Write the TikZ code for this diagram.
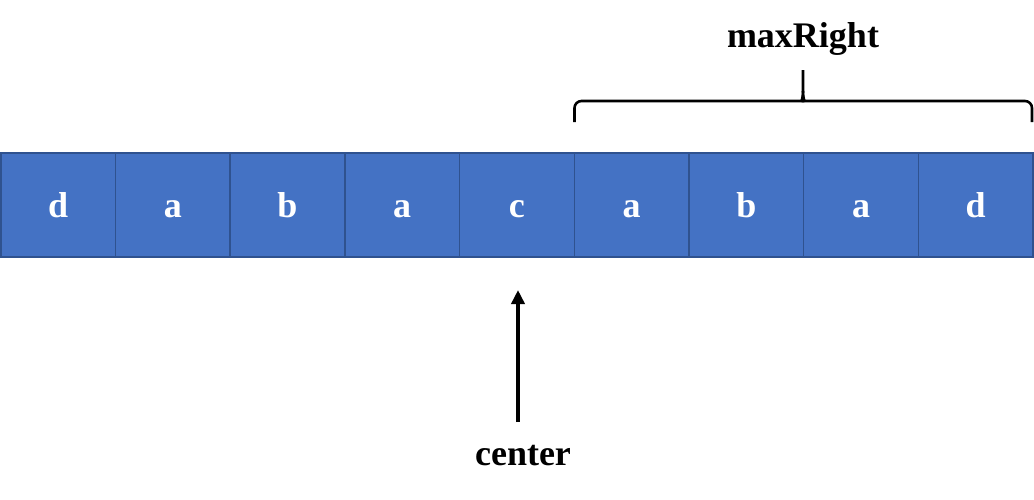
\documentclass[tikz,border=0pt]{standalone}
\usepackage{fontspec}
\setmainfont{Liberation Serif}
\usetikzlibrary{arrows.meta}
\usetikzlibrary{positioning}
\usetikzlibrary{calc}
\definecolor{cellfill}{HTML}{4472C4}
\definecolor{celledge}{HTML}{2F528F}

\begin{document}
\begin{tikzpicture}[x=1pt,y=-1pt,node distance=0pt,
                    cell/.style={rectangle,draw=celledge,line width=1.5pt,fill=cellfill,
                      minimum width=114.7pt,minimum height=104pt,inner sep=0pt,outer sep=0pt,
                      text height=24pt,text depth=0pt,
                      text=white,font=\fontsize{36}{40}\selectfont\bfseries},
                    label text/.style={font=\fontsize{36}{40}\selectfont\bfseries,inner sep=0pt,anchor=base}]

  \useasboundingbox (0,0) rectangle (1034,499);

  \node[cell,anchor=north west] (c1) at (0.75,153) {d};
  \foreach \ch [count=\i from 2, evaluate=\i as \j using int(\i-1)] in {a,b,a,c,a,b,a,d}
    \node[cell,right=of c\j] (c\i) {\ch};

  % brace over the right half
  \coordinate (bl) at (574.5,122);
  \coordinate (br) at (1032,122);
  \coordinate (btip) at (803,70);
  \draw[line width=2.6pt,rounded corners=7pt]
    (bl) -- (574.5,101) -- (795,101) [sharp corners] .. controls (801,101) and (803,99) .. (803,91) -- (btip);
  \draw[line width=2.6pt,rounded corners=7pt]
    (br) -- (1032,101) -- (811,101) [sharp corners] .. controls (805,101) and (803,99) .. (803,91);

  \node[label text] (maxr) at (803,47) {maxRight};
  \node[label text] (centr) at (523,465) {center};

  \coordinate (cstart) at (518,422);
  \coordinate (ctip) at (518,290);
  \draw[-{Triangle[length=14pt,width=13pt]},line width=4pt] (cstart) -- (ctip);
\end{tikzpicture}
\end{document}
